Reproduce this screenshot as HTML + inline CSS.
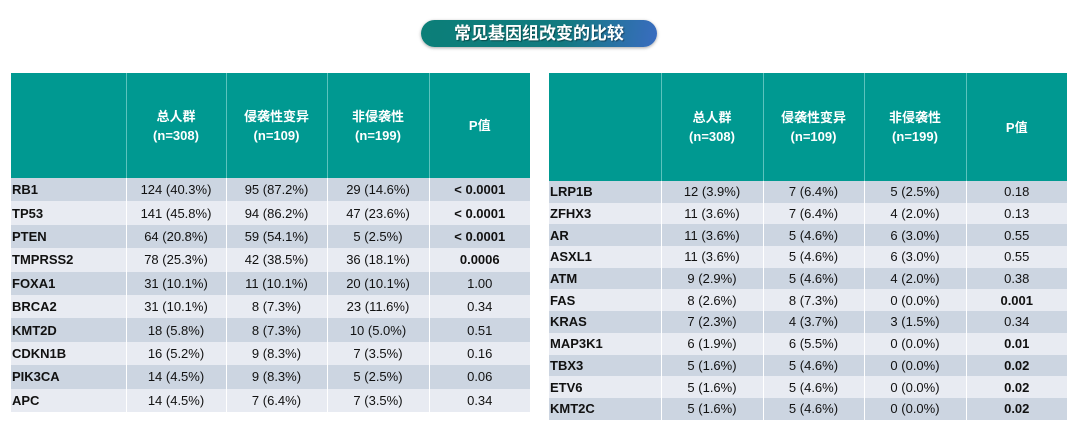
<!DOCTYPE html>
<html><head><meta charset="utf-8"><style>
body{margin:0;width:1081px;height:426px;background:#fff;position:relative;overflow:hidden;font-family:"Liberation Sans","Noto Sans CJK SC",sans-serif}
.title{position:absolute;left:421px;top:20px;width:236px;height:27px;border-radius:14px;background:linear-gradient(100deg,#0b7f78 0%,#127a80 60%,#3a6cc0 100%);color:#fff;font-weight:bold;font-size:17px;line-height:27px;text-align:center;box-shadow:0 1px 3px rgba(0,0,0,.35);text-shadow:1px 1px 1px rgba(0,0,0,.4)}
table{position:absolute;border-collapse:collapse;table-layout:fixed}
th{background:#009991;color:#fff;font-weight:bold;font-size:13px;line-height:19px;border-left:1px solid #5cc3bd;padding:0}
th:first-child{border-left:none}
td{font-size:13px;text-align:center;padding:0;border-left:1px solid #fff;color:#111;font-family:"Liberation Sans Narrow","Liberation Sans",sans-serif}
td:first-child{text-align:left;font-weight:bold;border-left:none;padding-left:1px}
tr:nth-child(odd) td{background:#ccd5e1}
tr:nth-child(even) td{background:#e8ebf2}
td.b{font-weight:bold}
#t1{left:11px;top:73px;width:519px}
#t1 th{height:105px}
#t1 td{height:23.4px}
#t2{left:549px;top:73px;width:518px}
#t2 th{height:108px}
#t2 td{height:21.7px}
</style></head><body>
<div class="title">常见基因组改变的比较</div>

<table id="t1">
<colgroup><col style="width:115px"><col style="width:100px"><col style="width:101px"><col style="width:102px"><col style="width:101px"></colgroup>
<thead><tr><th></th><th>总人群<br>(n=308)</th><th>侵袭性变异<br>(n=109)</th><th>非侵袭性<br>(n=199)</th><th>P值</th></tr></thead>
<tbody>
<tr><td>RB1</td><td>124 (40.3%)</td><td>95 (87.2%)</td><td>29 (14.6%)</td><td class="b">&lt; 0.0001</td></tr>
<tr><td>TP53</td><td>141 (45.8%)</td><td>94 (86.2%)</td><td>47 (23.6%)</td><td class="b">&lt; 0.0001</td></tr>
<tr><td>PTEN</td><td>64 (20.8%)</td><td>59 (54.1%)</td><td>5 (2.5%)</td><td class="b">&lt; 0.0001</td></tr>
<tr><td>TMPRSS2</td><td>78 (25.3%)</td><td>42 (38.5%)</td><td>36 (18.1%)</td><td class="b">0.0006</td></tr>
<tr><td>FOXA1</td><td>31 (10.1%)</td><td>11 (10.1%)</td><td>20 (10.1%)</td><td>1.00</td></tr>
<tr><td>BRCA2</td><td>31 (10.1%)</td><td>8 (7.3%)</td><td>23 (11.6%)</td><td>0.34</td></tr>
<tr><td>KMT2D</td><td>18 (5.8%)</td><td>8 (7.3%)</td><td>10 (5.0%)</td><td>0.51</td></tr>
<tr><td>CDKN1B</td><td>16 (5.2%)</td><td>9 (8.3%)</td><td>7 (3.5%)</td><td>0.16</td></tr>
<tr><td>PIK3CA</td><td>14 (4.5%)</td><td>9 (8.3%)</td><td>5 (2.5%)</td><td>0.06</td></tr>
<tr><td>APC</td><td>14 (4.5%)</td><td>7 (6.4%)</td><td>7 (3.5%)</td><td>0.34</td></tr>
</tbody></table>

<table id="t2">
<colgroup><col style="width:112px"><col style="width:102px"><col style="width:101px"><col style="width:102px"><col style="width:101px"></colgroup>
<thead><tr><th></th><th>总人群<br>(n=308)</th><th>侵袭性变异<br>(n=109)</th><th>非侵袭性<br>(n=199)</th><th>P值</th></tr></thead>
<tbody>
<tr><td>LRP1B</td><td>12 (3.9%)</td><td>7 (6.4%)</td><td>5 (2.5%)</td><td>0.18</td></tr>
<tr><td>ZFHX3</td><td>11 (3.6%)</td><td>7 (6.4%)</td><td>4 (2.0%)</td><td>0.13</td></tr>
<tr><td>AR</td><td>11 (3.6%)</td><td>5 (4.6%)</td><td>6 (3.0%)</td><td>0.55</td></tr>
<tr><td>ASXL1</td><td>11 (3.6%)</td><td>5 (4.6%)</td><td>6 (3.0%)</td><td>0.55</td></tr>
<tr><td>ATM</td><td>9 (2.9%)</td><td>5 (4.6%)</td><td>4 (2.0%)</td><td>0.38</td></tr>
<tr><td>FAS</td><td>8 (2.6%)</td><td>8 (7.3%)</td><td>0 (0.0%)</td><td class="b">0.001</td></tr>
<tr><td>KRAS</td><td>7 (2.3%)</td><td>4 (3.7%)</td><td>3 (1.5%)</td><td>0.34</td></tr>
<tr><td>MAP3K1</td><td>6 (1.9%)</td><td>6 (5.5%)</td><td>0 (0.0%)</td><td class="b">0.01</td></tr>
<tr><td>TBX3</td><td>5 (1.6%)</td><td>5 (4.6%)</td><td>0 (0.0%)</td><td class="b">0.02</td></tr>
<tr><td>ETV6</td><td>5 (1.6%)</td><td>5 (4.6%)</td><td>0 (0.0%)</td><td class="b">0.02</td></tr>
<tr><td>KMT2C</td><td>5 (1.6%)</td><td>5 (4.6%)</td><td>0 (0.0%)</td><td class="b">0.02</td></tr>
</tbody></table>
</body></html>
